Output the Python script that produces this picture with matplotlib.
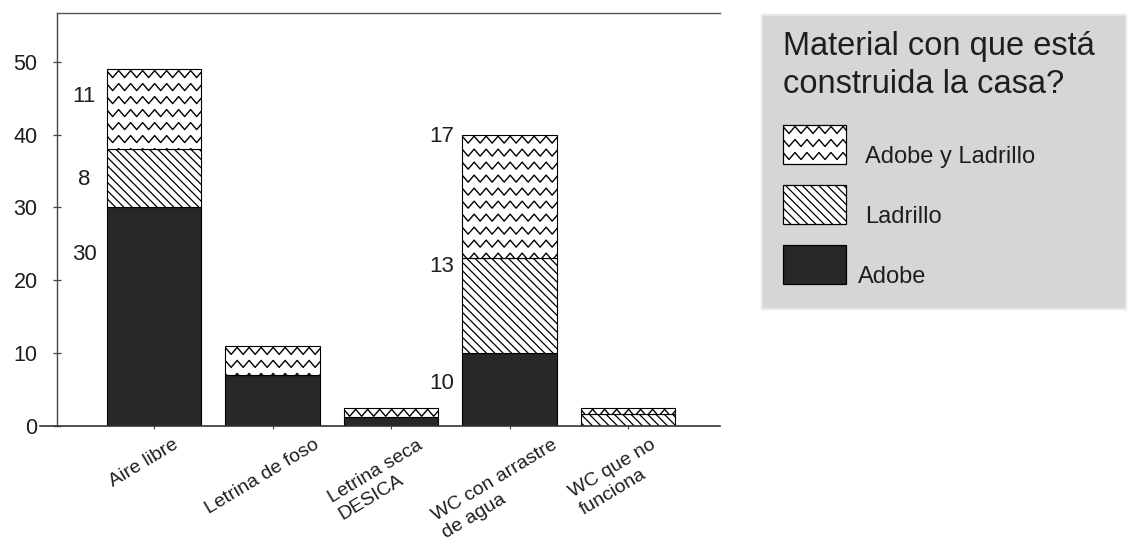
import matplotlib
matplotlib.use("Agg")
import matplotlib.pyplot as plt
import numpy as np
from matplotlib.patches import Rectangle
from matplotlib.lines import Line2D
from matplotlib.transforms import IdentityTransform, ScaledTranslation

plt.rcParams['font.family'] = ['Liberation Sans', 'DejaVu Sans']
plt.rcParams['hatch.linewidth'] = 0.9

# ---------------- data ----------------
categories = ['Aire libre', 'Letrina de foso', 'Letrina seca\nDESICA',
              'WC con arrastre\nde agua', 'WC que no\nfunciona']
adobe = [30, 7, 1.2, 10, 0]
ladrillo = [8, 0, 0, 13, 1.6]
adobe_ladrillo = [11, 4, 1.3, 17, 0.9]
series_names = ['Adobe y Ladrillo', 'Ladrillo', 'Adobe']
legend_title = ['Material con que está', 'construida la casa?']
y_ticks = [0, 10, 20, 30, 40, 50]

# value annotations: (series, y position in data units)
annot_aire = [('adobe_ladrillo', 45.3), ('ladrillo', 33.9), ('adobe', 23.5)]
annot_wc = [('adobe_ladrillo', 39.8), ('ladrillo', 21.9), ('adobe', 5.9)]

W, H = 1127, 545
DARK = '#282828'
TXT = '#1e1e1e'

fig = plt.figure(figsize=(W / 100, H / 100), dpi=100)
fig.patch.set_facecolor('white')
ax = fig.add_axes([57 / W, (H - 426) / H, (720 - 57) / W, 413 / H])

x = np.arange(len(categories))
width = 0.8
b_adobe = ax.bar(x, adobe, width, color=DARK, edgecolor='black', linewidth=0.8, zorder=2)
b_lad = ax.bar(x, ladrillo, width, bottom=adobe, color='white', edgecolor='black',
               hatch='\\\\\\\\', linewidth=0.8, zorder=2)
bottom3 = np.add(adobe, ladrillo)
b_al = ax.bar(x, adobe_ladrillo, width, bottom=bottom3, color='white', edgecolor='black',
              linewidth=0.8, zorder=2)

ax.set_xlim(-0.819, 4.776)
ax.set_ylim(0, 56.7)

# spines
ax.spines['right'].set_visible(False)
ax.spines['top'].set_color('#555555')
ax.spines['top'].set_linewidth(1.0)
ax.spines['left'].set_color('#444444')
ax.spines['left'].set_linewidth(1.0)
ax.spines['bottom'].set_visible(False)
ax.axhline(0, xmin=-0.026, xmax=1.0, color='#333333', lw=1.2, clip_on=False, zorder=3)

ax.set_yticks(y_ticks)
ax.set_yticklabels([str(v) for v in y_ticks])
ax.tick_params(axis='y', direction='inout', length=6, width=0.9, color='#444444',
               labelsize=15.5, labelcolor=TXT, pad=11)
ax.set_xticks(x)
ax.set_xticklabels(categories, rotation=31, ha='center', va='top', fontsize=14,
                   color=TXT, multialignment='left', linespacing=1.25)
ax.tick_params(axis='x', direction='inout', length=5, width=0.8, color='#444444', pad=5)
shift = ScaledTranslation(-10 / 100, 0, fig.dpi_scale_trans)
for lab in ax.get_xticklabels():
    lab.set_transform(lab.get_transform() + shift)


def zigzag(host, patch, period=12.0, row=13.0, amp=7.0, lw=1.0):
    bb = patch.get_window_extent()
    if bb.height <= 0.5:
        return
    xs = np.arange(bb.x0, bb.x1 + period, period / 2.0)
    for yb in np.arange(bb.y1 - amp - 1.5, bb.y0 - row, -row):
        yy = np.where(np.arange(len(xs)) % 2 == 0, yb + amp, yb)
        ln = Line2D(xs, yy, transform=IdentityTransform(), color='black', lw=lw, zorder=2.5)
        host.add_artist(ln)
        ln.set_clip_path(patch)


for p in b_al.patches:
    zigzag(ax, p)

# value annotations
series_map = {'adobe': adobe, 'ladrillo': ladrillo, 'adobe_ladrillo': adobe_ladrillo}
for idx, annots, dx in [(0, annot_aire, -0.59), (3, annot_wc, -0.57)]:
    for key, ypos in annots:
        ax.text(idx + dx, ypos, str(series_map[key][idx]), ha='center', va='center',
                fontsize=16, color=TXT)

# ---------------- legend (drawn by hand) ----------------
def fx(px):
    return px / W


def fy(py):
    return 1 - py / H


fig.add_artist(Rectangle((fx(762), fy(309)), fx(1126) - fx(762), fy(15) - fy(309),
                         transform=fig.transFigure, facecolor='#d6d6d6',
                         edgecolor='#e6e6e6', lw=1.5, zorder=0))
fig.text(fx(783), fy(55), legend_title[0], fontsize=23.5, color=TXT, va='baseline', ha='left')
fig.text(fx(783), fy(93), legend_title[1], fontsize=23.5, color=TXT, va='baseline', ha='left')

sw_tops = [125, 185, 245]
sw_h = 39
for name, top in zip(series_names, sw_tops):
    kw = dict(transform=fig.transFigure, edgecolor='black', lw=0.9, zorder=2)
    rect = ((fx(783), fy(top + sw_h)), fx(846) - fx(783), fy(top) - fy(top + sw_h))
    if name == 'Adobe y Ladrillo':
        r = Rectangle(*rect, facecolor='white', **kw)
        fig.add_artist(r)
        zigzag(fig, r)
    elif name == 'Ladrillo':
        r = Rectangle(*rect, facecolor='white', hatch='\\\\\\\\', **kw)
        fig.add_artist(r)
    else:
        r = Rectangle(*rect, facecolor=DARK, **kw)
        fig.add_artist(r)
    lx = 865 if name != 'Adobe' else 858
    fig.text(fx(lx), fy(top + sw_h - 1), name, fontsize=17, color=TXT,
             va='baseline', ha='left')

fig.savefig('out.png', dpi=100)
